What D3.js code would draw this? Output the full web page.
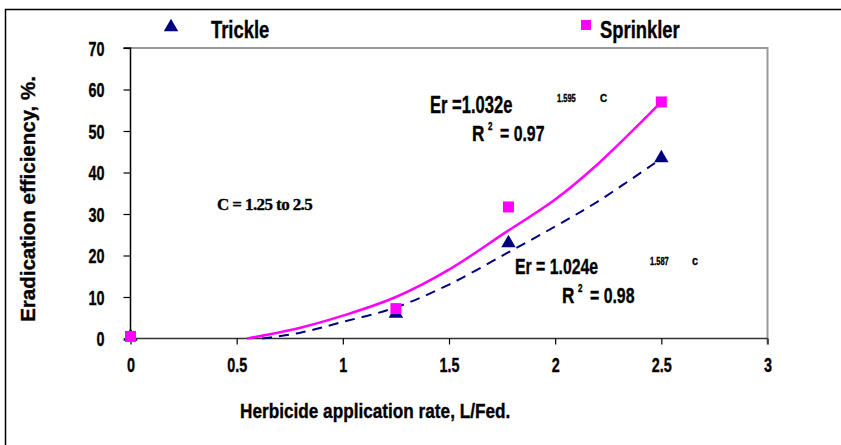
<!DOCTYPE html>
<html>
<head>
<meta charset="utf-8">
<script src="https://cdn.jsdelivr.net/npm/d3@7"></script>
<style>
  body { margin: 0; background: #fff; }
  text { font-family: "Liberation Sans", Arial, sans-serif; font-weight: bold; fill: #000; stroke: #000; stroke-width: 0.35; }
</style>
</head>
<body>
<svg id="chart" width="841" height="445"></svg>
<script>
// measured points
const rates = [0, 1.25, 1.78, 2.5]
const trickle = [0, 5.5, 22.5, 43]
const sprinkler = [0.5, 7.2, 31.7, 57]

// fitted curves
const sprinklerFitX = [0.55, 0.8, 1.0, 1.25, 1.5, 1.77, 2.0, 2.2, 2.5]
const sprinklerFitY = [0, 2.6, 5.5, 10, 16.6, 25.7, 33.5, 42, 57]
const trickleFitX = [0.62, 0.8, 1.0, 1.25, 1.5, 1.77, 2.0, 2.2, 2.47]
const trickleFitY = [0, 1.4, 4, 7.5, 13, 20.5, 27, 33, 42.3]

const xTicks = [0, 0.5, 1, 1.5, 2, 2.5, 3]
const yTicks = [0, 10, 20, 30, 40, 50, 60, 70]

const svg = d3.select('#chart')
const x = d3.scaleLinear().domain([0, 3]).range([130.5, 767.5])
const y = d3.scaleLinear().domain([0, 70]).range([338.5, 48])

// outer frame (top and left only are visible)
svg.append('path').attr('d', 'M5.5,445 V9.5 H841')
  .attr('fill', 'none').attr('stroke', '#000').attr('stroke-width', 1.5)

// plot box top/right edges
svg.append('path').attr('d', `M${x(0)},${y(70)} H${x(3)} V${y(0) + 6}`)
  .attr('fill', 'none').attr('stroke', '#999').attr('stroke-width', 2)

const yAxis = svg.append('g').attr('transform', `translate(${x(0)},0)`)
  .call(d3.axisLeft(y).tickValues(yTicks).tickSize(7).tickFormat(d3.format('d')))
const xAxis = svg.append('g').attr('transform', `translate(0,${y(0)})`)
  .call(d3.axisBottom(x).tickValues(xTicks).tickSize(6).tickFormat(d => String(d)))

yAxis.select('.domain').attr('stroke', '#000').attr('stroke-width', 1.5).attr('d', `M-7,${y(70)}H0V${y(0)}`)
xAxis.select('.domain').attr('stroke', '#333').attr('stroke-width', 1.5).attr('d', `M${x(0)},0H${x(3)}`)
svg.selectAll('.tick line').attr('stroke', '#000').attr('stroke-width', 1.2)

yAxis.selectAll('.tick text')
  .attr('x', null).attr('dy', null)
  .style('font-size', '20px')
  .attr('text-anchor', 'end')
  .attr('transform', d => `translate(-26,${y(d) + 7}) scale(0.72,1)`)
  .attr('y', d => -y(d))
xAxis.selectAll('.tick text')
  .attr('dy', null).attr('y', null)
  .style('font-size', '20px')
  .attr('transform', 'translate(0,33) scale(0.72,1)')
svg.selectAll('.tick text').attr('fill', '#000').attr('stroke', '#000').attr('stroke-width', 0.35)
  .style('font-family', '"Liberation Sans", Arial, sans-serif').style('font-weight', 'bold')

// fitted curves
const line = d3.line().x(d => x(d[0])).y(d => y(d[1])).curve(d3.curveCatmullRom.alpha(0.5))
svg.append('path').datum(d3.zip(sprinklerFitX, sprinklerFitY)).attr('d', line)
  .attr('fill', 'none').attr('stroke', '#FF00FF').attr('stroke-width', 2.5)
svg.append('path').datum(d3.zip(trickleFitX, trickleFitY)).attr('d', line)
  .attr('fill', 'none').attr('stroke', '#000080').attr('stroke-width', 2)
  .attr('stroke-dasharray', '10,7')

const tri = d3.symbol().type(d3.symbolTriangle).size(90)
svg.selectAll('.tri').data(d3.zip(rates, trickle)).join('path')
  .attr('d', tri).attr('fill', '#000080')
  .attr('transform', d => `translate(${x(d[0])},${y(d[1]) - 2})`)
svg.selectAll('.sq').data(d3.zip(rates, sprinkler)).join('rect')
  .attr('x', d => x(d[0]) - 5.5).attr('y', d => y(d[1]) - 5.5)
  .attr('width', 11).attr('height', 11).attr('fill', '#FF00FF')

// legend
svg.append('path').attr('d', tri).attr('fill', '#000080').attr('transform', 'translate(171,27)')
svg.append('rect').attr('x', 581).attr('y', 20).attr('width', 10).attr('height', 10).attr('fill', '#FF00FF')

function label(tx, ty, str, size, sx) {
  return svg.append('text').attr('transform', `translate(${tx},${ty}) scale(${sx},1)`)
    .style('font-size', size + 'px').text(str)
}
label(211, 38, 'Trickle', 23, 0.8)
label(600, 38, 'Sprinkler', 23, 0.8)

label(430, 113, 'Er =1.032e', 23, 0.72)
label(557, 102, '1.595', 10, 0.75)
label(600, 102, 'C', 11, 0.9)
label(472, 141, 'R', 22, 0.78)
label(488, 130, '2', 10, 0.8)
label(500, 141, '= 0.97', 22, 0.72)

label(515, 274, 'Er = 1.024e', 22, 0.72)
label(650, 265, '1.587', 10, 0.75)
label(692, 265, 'c', 12, 0.9)
label(562, 303, 'R', 22, 0.78)
label(578, 292, '2', 10, 0.8)
label(590, 303, '= 0.98', 22, 0.72)

svg.append('text').attr('x', 217).attr('y', 210)
  .style('font-family', '"Liberation Serif", "Times New Roman", serif')
  .style('font-size', '17px').attr('letter-spacing', '-0.6')
  .text('C = 1.25 to 2.5')

// axis titles
label(240, 418, 'Herbicide application rate, L/Fed.', 20, 0.86)
svg.append('text').attr('transform', 'translate(35,199) rotate(-90)')
  .attr('text-anchor', 'middle').style('font-size', '20.5px')
  .text('Eradication efficiency, %.')
</script>
</body>
</html>
